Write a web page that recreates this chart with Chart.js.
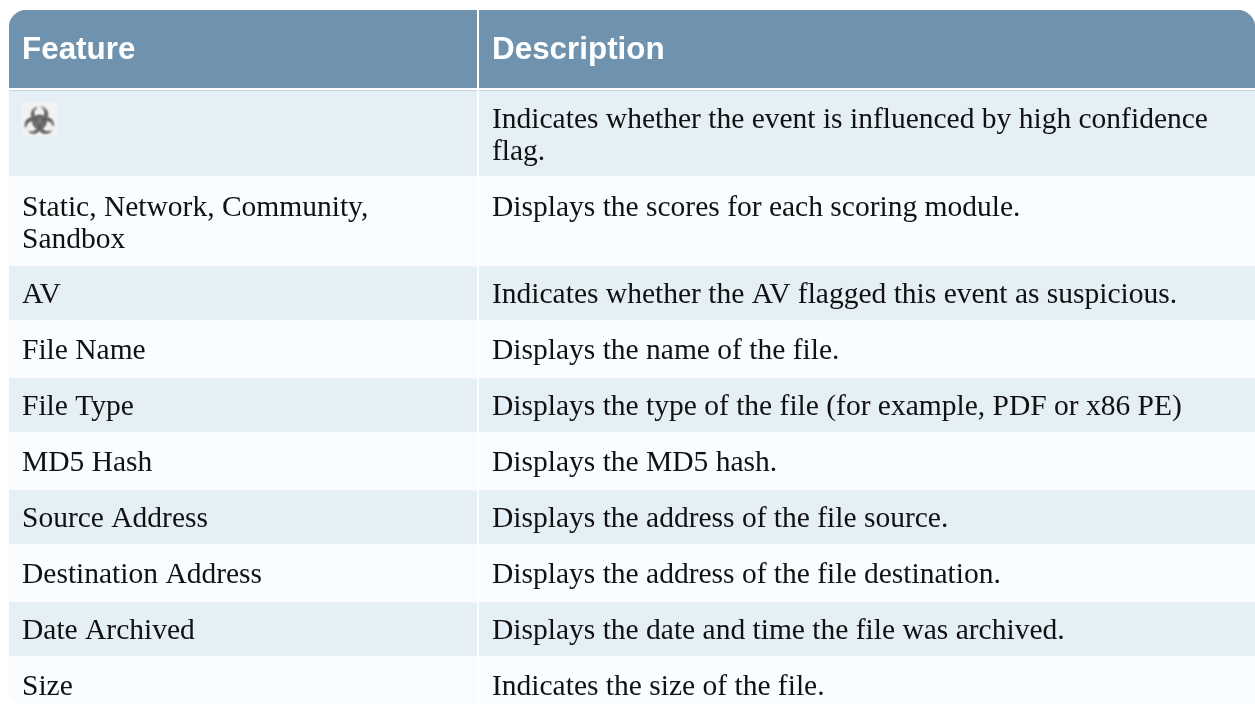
<!DOCTYPE html>
<html>
<head>
<meta charset="utf-8">
<title>Feature table</title>
<script src="https://cdn.jsdelivr.net/npm/chart.js@4"></script>
<style>
    html, body { margin: 0; padding: 0; background: #fff; overflow: hidden; }
    canvas { display: block; }
</style>
</head>
<body>
<canvas id="tabela" width="1255" height="704"></canvas>
<script>
// Conteudo da tabela
const headers = ['Feature', 'Description'];
const features = [
    '\u2623',
    'Static, Network, Community,\nSandbox',
    'AV',
    'File Name',
    'File Type',
    'MD5 Hash',
    'Source Address',
    'Destination Address',
    'Date Archived',
    'Size'
];
const descriptions = [
    'Indicates whether the event is influenced by high confidence\nflag.',
    'Displays the scores for each scoring module.',
    'Indicates whether the AV flagged this event as suspicious.',
    'Displays the name of the file.',
    'Displays the type of the file (for example, PDF or x86 PE)',
    'Displays the MD5 hash.',
    'Displays the address of the file source.',
    'Displays the address of the file destination.',
    'Displays the date and time the file was archived.',
    'Indicates the size of the file.'
];
// Altura de cada linha e largura de cada coluna
const headerHeight = 80;
const rowHeights = [86, 90, 54, 58, 54, 58, 54, 58, 54, 48];
const columnWidths = [469, 777];

const tableHeight = rowHeights.reduce((a, b) => a + b, headerHeight);
const tableWidth = columnWidths[0] + columnWidths[1];

const corHeader = '#6f93ae';
const corEscura = '#e4eff6';
const corClara = '#f9fdff';

// Datasets das linhas, empilhados de cima para baixo
const rowDatasets = rowHeights.map((h, i) => ({
    label: features[i],
    data: [{ x: tableWidth / 2, y: h }],
    backgroundColor: i % 2 === 0 ? corEscura : corClara,
    borderSkipped: false,
    borderRadius: i === rowHeights.length - 1 ? { bottomLeft: 12 } : 0,
    stack: 'tabela',
    order: 1
}));

// Escreve os textos e o icone depois das barras
const textoPlugin = {
    id: 'textoPlugin',
    afterDatasetsDraw(chart) {
        const ctx = chart.ctx;
        const y = chart.scales.y;
        const col = chart.scales.x;
        const xFeature = col.getPixelForValue(0) + 13;
        const xDesc = col.getPixelForValue(columnWidths[0]) + 14;

        ctx.save();
        ctx.textBaseline = 'alphabetic';
        ctx.textAlign = 'left';

        ctx.font = 'bold 31.4px "Liberation Sans"';
        ctx.fillStyle = '#ffffff';
        ctx.fillText(headers[0], xFeature, y.getPixelForValue(0) + 49);
        ctx.fillText(headers[1], xDesc, y.getPixelForValue(0) + 49);

        ctx.font = '29.5px "Liberation Serif"';
        ctx.fillStyle = '#111111';
        let acumulado = headerHeight;
        rowHeights.forEach((h, i) => {
            const topo = y.getPixelForValue(acumulado);
            const base = topo + (i % 2 === 0 ? 37 : 39) + (i < 2 ? 1 : 0);
            if (i === 0) {
                // icone de biohazard
                ctx.save();
                ctx.fillStyle = '#f0f2f3';
                ctx.fillRect(xFeature - 1, topo + 12, 37, 34);
                ctx.filter = 'blur(0.9px)';
                ctx.fillStyle = '#555555';
                ctx.strokeStyle = '#555555';
                ctx.lineWidth = 1.2;
                ctx.font = '35px "DejaVu Sans"';
                ctx.textAlign = 'center';
                ctx.fillText(features[0], xFeature + 17.5, topo + 43);
                ctx.strokeText(features[0], xFeature + 17.5, topo + 43);
                ctx.restore();
            } else {
                features[i].split('\n').forEach((linha, n) => {
                    ctx.fillText(linha, xFeature, base + n * 31.5);
                });
            }
            descriptions[i].split('\n').forEach((linha, n) => {
                ctx.fillText(linha, xDesc, base + n * 31.5);
            });
            acumulado += h;
        });
        ctx.restore();
    }
};

new Chart(document.getElementById('tabela'), {
    type: 'bar',
    plugins: [textoPlugin],
    data: {
        datasets: [
            // separadores brancos
            {
                type: 'line',
                yAxisID: 'yCol',
                data: [{ x: 0, y: headerHeight - 1 }, { x: tableWidth, y: headerHeight - 1 }],
                borderColor: '#ffffff',
                borderWidth: 2,
                pointRadius: 0,
                order: 0
            },
            {
                type: 'line',
                yAxisID: 'yCol',
                data: [{ x: columnWidths[0], y: 0 }, { x: columnWidths[0], y: tableHeight }],
                borderColor: '#ffffff',
                borderWidth: 2,
                pointRadius: 0,
                order: 0
            },
            {
                label: headers[0],
                data: [{ x: tableWidth / 2, y: headerHeight }],
                backgroundColor: corHeader,
                borderSkipped: false,
                borderRadius: { topLeft: 18, topRight: 18 },
                stack: 'tabela',
                order: 1
            },
            ...rowDatasets
        ]
    },
    options: {
        responsive: false,
        animation: false,
        events: [],
        layout: { padding: { left: 9, top: 10, right: 0, bottom: 0 } },
        datasets: { bar: { barThickness: tableWidth } },
        plugins: {
            legend: { display: false },
            title: { display: false },
            tooltip: { enabled: false }
        },
        scales: {
            x: { display: false, type: 'linear', min: 0, max: tableWidth, offset: false },
            y: { display: false, stacked: true, reverse: true, min: 0, max: tableHeight },
            yCol: { display: false, type: 'linear', reverse: true, min: 0, max: tableHeight }
        }
    }
});
</script>
</body>
</html>
